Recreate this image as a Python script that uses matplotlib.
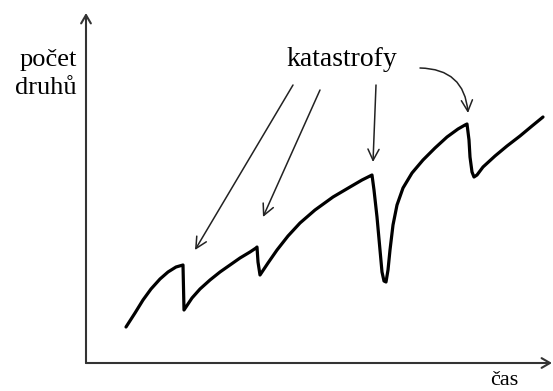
import numpy as np
import matplotlib.pyplot as plt
from matplotlib.patches import FancyArrowPatch

# species count over time (arbitrary units)
time = [4.0, 4.9, 5.7, 6.5, 7.4, 8.2, 9.0, 9.7, 9.8,
        10.6, 11.4, 12.4, 13.4, 14.4, 15.4, 16.4, 17.0, 17.1, 17.2, 17.4,
        18.2, 19.1, 20.2, 21.4, 22.9, 24.7, 26.4, 27.6, 28.4, 28.6,
        28.8, 29.1, 29.4, 29.6, 29.8, 30.0, 30.2, 30.4, 30.7, 31.1, 31.7,
        32.6, 33.7, 34.9, 36.1, 37.2, 37.9, 38.1,
        38.3, 38.4, 38.6, 38.8, 39.1, 39.7, 40.9, 42.1, 43.4, 44.6, 45.7]
species = [3.6, 5.0, 6.3, 7.4, 8.4, 9.1, 9.6, 9.8, 5.3,
           6.5, 7.4, 8.3, 9.1, 9.8, 10.5, 11.1, 11.5, 11.6, 10.1, 8.8,
           10.0, 11.3, 12.7, 14.0, 15.3, 16.6, 17.6, 18.3, 18.7, 18.8,
           17.3, 14.6, 11.3, 9.1, 8.2, 8.1, 9.3, 11.3, 13.8, 15.8, 17.5,
           19.0, 20.3, 21.5, 22.6, 23.4, 23.8, 23.9,
           22.3, 20.6, 19.1, 18.6, 18.8, 19.6, 20.7, 21.7, 22.7, 23.7, 24.6]

# catastrophe arrows: (start, end) in the same units
arrow_starts = [(20.7, 27.8), (23.4, 27.3), (29.0, 27.8), (33.4, 29.5)]
arrow_ends = [(10.9, 11.3), (17.7, 14.6), (28.7, 20.1), (38.2, 25.0)]
arrow_bends = [0.0, 0.0, 0.0, -0.45]

serif = ['Liberation Serif', 'DejaVu Serif']

fig = plt.figure(figsize=(5.53, 3.91), dpi=100)
ax = fig.add_axes([0, 0, 1, 1])
ax.set_xlim(-8.6, 46.7)
ax.set_ylim(-2.8, 36.3)
ax.axis('off')

# axes with arrow heads
for end in [(46.6, 0.0), (0.0, 35.0)]:
    ax.annotate('', xy=end, xytext=(0.0, 0.0),
                arrowprops=dict(arrowstyle='->,head_length=0.6,head_width=0.35',
                                color='#333333', lw=1.5,
                                shrinkA=0, shrinkB=0))

ax.plot(time, species, color='black', lw=2.3,
        solid_joinstyle='round', solid_capstyle='round')

for (x0, y0), (x1, y1), rad in zip(arrow_starts, arrow_ends, arrow_bends):
    arr = FancyArrowPatch((x0, y0), (x1, y1),
                          arrowstyle='->,head_length=0.8,head_width=0.4',
                          connectionstyle=f'arc3,rad={rad}',
                          mutation_scale=10, color='#222222', lw=1.1,
                          shrinkA=0, shrinkB=0)
    ax.add_patch(arr)

ax.text(25.6, 30.3, 'katastrofy', family=serif, fontsize=20,
        ha='center', va='center')
ax.text(-0.9, 30.3, 'počet', family=serif, fontsize=19,
        ha='right', va='center')
ax.text(-0.9, 27.5, 'druhů', family=serif, fontsize=19,
        ha='right', va='center')
ax.text(41.8, -2.7, 'čas', family=serif, fontsize=16,
        ha='center', va='bottom')

fig.savefig('out.png', dpi=100)
